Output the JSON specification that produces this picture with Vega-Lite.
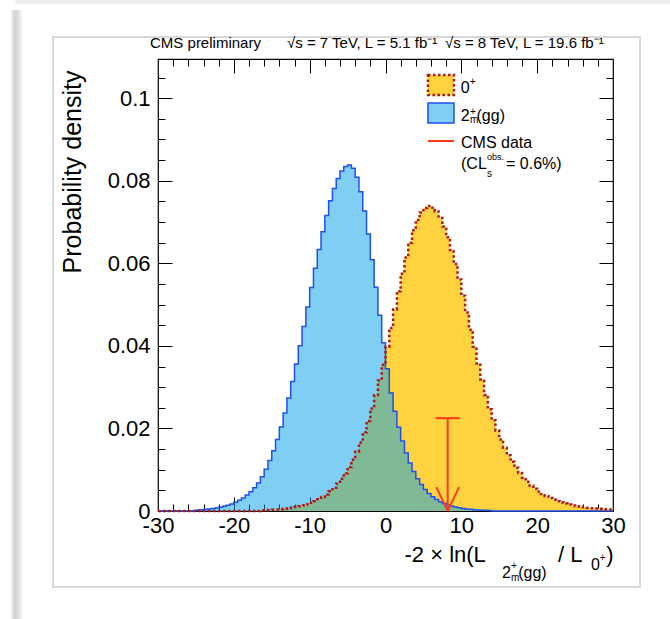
{
  "$schema": "https://vega.github.io/schema/vega-lite/v6.json",
  "width": 455,
  "height": 452,
  "autosize": {"type": "none"},
  "padding": {"left": 158, "top": 59, "right": 57, "bottom": 108},
  "background": "white",
  "datasets": {
    "single": [{}],
    "spin0": [
      {"lo": -30, "p": 0}, {"lo": -29.5, "p": 0}, {"lo": -29, "p": 0}, {"lo": -28.5, "p": 0}, {"lo": -28, "p": 0}, {"lo": -27.5, "p": 0}, {"lo": -27, "p": 0}, {"lo": -26.5, "p": 0}, {"lo": -26, "p": 0}, {"lo": -25.5, "p": 0}, {"lo": -25, "p": 0}, {"lo": -24.5, "p": 0}, {"lo": -24, "p": 0}, {"lo": -23.5, "p": 0}, {"lo": -23, "p": 0}, {"lo": -22.5, "p": 0}, {"lo": -22, "p": 0}, {"lo": -21.5, "p": 0}, {"lo": -21, "p": 0}, {"lo": -20.5, "p": 0}, {"lo": -20, "p": 0}, {"lo": -19.5, "p": 0}, {"lo": -19, "p": 0}, {"lo": -18.5, "p": 0}, {"lo": -18, "p": 0}, {"lo": -17.5, "p": 0}, {"lo": -17, "p": 0},
      {"lo": -16.5, "p": 0.00017}, {"lo": -16, "p": 0.0002}, {"lo": -15.5, "p": 0.00025}, {"lo": -15, "p": 0.00031}, {"lo": -14.5, "p": 0.00037}, {"lo": -14, "p": 0.00045}, {"lo": -13.5, "p": 0.00055}, {"lo": -13, "p": 0.00066}, {"lo": -12.5, "p": 0.0008}, {"lo": -12, "p": 0.00096}, {"lo": -11.5, "p": 0.00116}, {"lo": -11, "p": 0.00139}, {"lo": -10.5, "p": 0.00166}, {"lo": -10, "p": 0.00199}, {"lo": -9.5, "p": 0.00238}, {"lo": -9, "p": 0.00284}, {"lo": -8.5, "p": 0.00338}, {"lo": -8, "p": 0.00402}, {"lo": -7.5, "p": 0.00476}, {"lo": -7, "p": 0.00563}, {"lo": -6.5, "p": 0.00663}, {"lo": -6, "p": 0.00779}, {"lo": -5.5, "p": 0.00913}, {"lo": -5, "p": 0.01065}, {"lo": -4.5, "p": 0.01239}, {"lo": -4, "p": 0.01437}, {"lo": -3.5, "p": 0.01658}, {"lo": -3, "p": 0.01905}, {"lo": -2.5, "p": 0.02179}, {"lo": -2, "p": 0.02481}, {"lo": -1.5, "p": 0.02809}, {"lo": -1, "p": 0.03163}, {"lo": -0.5, "p": 0.0354}, {"lo": 0, "p": 0.03981}, {"lo": 0.5, "p": 0.04431}, {"lo": 1, "p": 0.04882}, {"lo": 1.5, "p": 0.05324}, {"lo": 2, "p": 0.05748}, {"lo": 2.5, "p": 0.06142}, {"lo": 3, "p": 0.06496}, {"lo": 3.5, "p": 0.06802}, {"lo": 4, "p": 0.07049}, {"lo": 4.5, "p": 0.07231}, {"lo": 5, "p": 0.07342}, {"lo": 5.5, "p": 0.0739}, {"lo": 6, "p": 0.07348}, {"lo": 6.5, "p": 0.07255}, {"lo": 7, "p": 0.07101}, {"lo": 7.5, "p": 0.06891}, {"lo": 8, "p": 0.0663}, {"lo": 8.5, "p": 0.06325}, {"lo": 9, "p": 0.05981}, {"lo": 9.5, "p": 0.05609}, {"lo": 10, "p": 0.05215}, {"lo": 10.5, "p": 0.04807}, {"lo": 11, "p": 0.04393}, {"lo": 11.5, "p": 0.03981}, {"lo": 12, "p": 0.03576}, {"lo": 12.5, "p": 0.03186}, {"lo": 13, "p": 0.02813}, {"lo": 13.5, "p": 0.02463}, {"lo": 14, "p": 0.02197}, {"lo": 14.5, "p": 0.01953}, {"lo": 15, "p": 0.01732}, {"lo": 15.5, "p": 0.01533}, {"lo": 16, "p": 0.01353}, {"lo": 16.5, "p": 0.01191}, {"lo": 17, "p": 0.01048}, {"lo": 17.5, "p": 0.0092}, {"lo": 18, "p": 0.00806}, {"lo": 18.5, "p": 0.00706}, {"lo": 19, "p": 0.00617}, {"lo": 19.5, "p": 0.00539}, {"lo": 20, "p": 0.00471}, {"lo": 20.5, "p": 0.00411}, {"lo": 21, "p": 0.00358}, {"lo": 21.5, "p": 0.00312}, {"lo": 22, "p": 0.00271}, {"lo": 22.5, "p": 0.00236}, {"lo": 23, "p": 0.00206}, {"lo": 23.5, "p": 0.00179}, {"lo": 24, "p": 0.00156}, {"lo": 24.5, "p": 0.00136}, {"lo": 25, "p": 0.00118}, {"lo": 25.5, "p": 0.00103}, {"lo": 26, "p": 0.00089}, {"lo": 26.5, "p": 0.00078}, {"lo": 27, "p": 0.00068}, {"lo": 27.5, "p": 0.00059}, {"lo": 28, "p": 0.00052}, {"lo": 28.5, "p": 0.00045}, {"lo": 29, "p": 0.00039}, {"lo": 29.5, "p": 0.00034}, {"lo": 30, "p": 0.00034}
    ],
    "spin2": [
      {"lo": -30, "p": 0}, {"lo": -29.5, "p": 0}, {"lo": -29, "p": 0}, {"lo": -28.5, "p": 0}, {"lo": -28, "p": 0}, {"lo": -27.5, "p": 0}, {"lo": -27, "p": 0}, {"lo": -26.5, "p": 0}, {"lo": -26, "p": 0}, {"lo": -25.5, "p": 0},
      {"lo": -25, "p": 0.00023}, {"lo": -24.5, "p": 0.00029}, {"lo": -24, "p": 0.00037}, {"lo": -23.5, "p": 0.00047}, {"lo": -23, "p": 0.00058}, {"lo": -22.5, "p": 0.00073}, {"lo": -22, "p": 0.00091}, {"lo": -21.5, "p": 0.00113}, {"lo": -21, "p": 0.00139}, {"lo": -20.5, "p": 0.00172}, {"lo": -20, "p": 0.00212}, {"lo": -19.5, "p": 0.00259}, {"lo": -19, "p": 0.00317}, {"lo": -18.5, "p": 0.00385}, {"lo": -18, "p": 0.00467}, {"lo": -17.5, "p": 0.00564}, {"lo": -17, "p": 0.00677}, {"lo": -16.5, "p": 0.00832}, {"lo": -16, "p": 0.01012}, {"lo": -15.5, "p": 0.01221}, {"lo": -15, "p": 0.01461}, {"lo": -14.5, "p": 0.01732}, {"lo": -14, "p": 0.02036}, {"lo": -13.5, "p": 0.02372}, {"lo": -13, "p": 0.0274}, {"lo": -12.5, "p": 0.03137}, {"lo": -12, "p": 0.0356}, {"lo": -11.5, "p": 0.04006}, {"lo": -11, "p": 0.04468}, {"lo": -10.5, "p": 0.0494}, {"lo": -10, "p": 0.05415}, {"lo": -9.5, "p": 0.05883}, {"lo": -9, "p": 0.06337}, {"lo": -8.5, "p": 0.06766}, {"lo": -8, "p": 0.07161}, {"lo": -7.5, "p": 0.07513}, {"lo": -7, "p": 0.07814}, {"lo": -6.5, "p": 0.08057}, {"lo": -6, "p": 0.08235}, {"lo": -5.5, "p": 0.08343}, {"lo": -5, "p": 0.0838}, {"lo": -4.5, "p": 0.08306}, {"lo": -4, "p": 0.08087}, {"lo": -3.5, "p": 0.07736}, {"lo": -3, "p": 0.07269}, {"lo": -2.5, "p": 0.0671}, {"lo": -2, "p": 0.06085}, {"lo": -1.5, "p": 0.05421}, {"lo": -1, "p": 0.04744}, {"lo": -0.5, "p": 0.04079}, {"lo": 0, "p": 0.03445}, {"lo": 0.5, "p": 0.02858}, {"lo": 1, "p": 0.02417}, {"lo": 1.5, "p": 0.0203}, {"lo": 2, "p": 0.01694}, {"lo": 2.5, "p": 0.01407}, {"lo": 3, "p": 0.01162}, {"lo": 3.5, "p": 0.00957}, {"lo": 4, "p": 0.00784}, {"lo": 4.5, "p": 0.00641}, {"lo": 5, "p": 0.00523}, {"lo": 5.5, "p": 0.00425}, {"lo": 6, "p": 0.00345}, {"lo": 6.5, "p": 0.0028}, {"lo": 7, "p": 0.00226}, {"lo": 7.5, "p": 0.00183}, {"lo": 8, "p": 0.00148}, {"lo": 8.5, "p": 0.00119}, {"lo": 9, "p": 0.00096}, {"lo": 9.5, "p": 0.00078}, {"lo": 10, "p": 0.00063}, {"lo": 10.5, "p": 0.00051}, {"lo": 11, "p": 0.00041}, {"lo": 11.5, "p": 0.00033}, {"lo": 12, "p": 0.00026}, {"lo": 12.5, "p": 0.00021}, {"lo": 13, "p": 0.00017}, {"lo": 13.5, "p": 0.00013},
      {"lo": 14, "p": 0}, {"lo": 14.5, "p": 0}, {"lo": 15, "p": 0}, {"lo": 15.5, "p": 0}, {"lo": 16, "p": 0}, {"lo": 16.5, "p": 0}, {"lo": 17, "p": 0}, {"lo": 17.5, "p": 0}, {"lo": 18, "p": 0}, {"lo": 18.5, "p": 0}, {"lo": 19, "p": 0}, {"lo": 19.5, "p": 0}, {"lo": 20, "p": 0}, {"lo": 20.5, "p": 0}, {"lo": 21, "p": 0}, {"lo": 21.5, "p": 0}, {"lo": 22, "p": 0}, {"lo": 22.5, "p": 0}, {"lo": 23, "p": 0}, {"lo": 23.5, "p": 0}, {"lo": 24, "p": 0}, {"lo": 24.5, "p": 0}, {"lo": 25, "p": 0}, {"lo": 25.5, "p": 0}, {"lo": 26, "p": 0}, {"lo": 26.5, "p": 0}, {"lo": 27, "p": 0}, {"lo": 27.5, "p": 0}, {"lo": 28, "p": 0}, {"lo": 28.5, "p": 0}, {"lo": 29, "p": 0}, {"lo": 29.5, "p": 0}, {"lo": 30, "p": 0}
    ],
    "observed": [
      {"x": 8.2, "y": 0, "x2": 8.2, "y2": 0.0225},
      {"x": 6.62, "y": 0.0225, "x2": 9.8, "y2": 0.0225},
      {"x": 6.7, "y": 0.0058, "x2": 8.2, "y2": 0},
      {"x": 9.7, "y": 0.0058, "x2": 8.2, "y2": 0}
    ]
  },
  "resolve": {"axis": {"x": "independent", "y": "independent"}},
  "layer": [
    {
      "data": {"name": "single"},
      "mark": {"type": "rect", "fill": {"gradient": "linear", "x1": 0, "y1": 0, "x2": 1, "y2": 0, "stops": [{"offset": 0, "color": "#ffffff"}, {"offset": 0.35, "color": "#d2d2d2"}, {"offset": 0.6, "color": "#dadada"}, {"offset": 1, "color": "#f6f6f6"}]}},
      "encoding": {
        "x": {"datum": -49.5, "type": "quantitative", "axis": null},
        "x2": {"datum": -47.9},
        "y": {"datum": 0.1214, "type": "quantitative", "axis": null},
        "y2": {"datum": -0.0262}
      }
    },
    {
      "data": {"name": "single"},
      "mark": {"type": "rect", "fill": "#ececec"},
      "encoding": {
        "x": {"datum": -48.8, "type": "quantitative", "axis": null},
        "x2": {"datum": 37.6},
        "y": {"datum": 0.1238, "type": "quantitative", "axis": null},
        "y2": {"datum": 0.1229}
      }
    },
    {
      "data": {"name": "single"},
      "mark": {"type": "rect", "fillOpacity": 0, "stroke": "#d8d8d8", "strokeWidth": 2},
      "encoding": {
        "x": {"datum": -43.85, "type": "quantitative", "axis": null},
        "x2": {"datum": 33.56},
        "y": {"datum": 0.11483, "type": "quantitative", "axis": null},
        "y2": {"datum": -0.01841}
      }
    },
    {
      "data": {"name": "spin0"},
      "mark": {"type": "area", "interpolate": "step-after", "color": "#FFD23F"},
      "encoding": {
        "x": {"field": "lo", "type": "quantitative", "scale": {"domain": [-30, 30], "nice": false, "zero": false},
          "axis": {"orient": "bottom", "values": [-30, -20, -10, 0, 10, 20, 30], "ticks": false, "labelPadding": 4, "labelExpr": "'' + datum.value", "title": null}},
        "y": {"field": "p", "type": "quantitative", "scale": {"domain": [0, 0.1095], "nice": false},
          "axis": {"orient": "left", "values": [0, 0.02, 0.04, 0.06, 0.08, 0.1], "ticks": false, "labelPadding": 8, "labelExpr": "'' + datum.value",
            "title": "Probability density", "titleFontSize": 25, "titleFontWeight": "normal", "titleX": -78, "titleY": 11, "titleAngle": -90, "titleAlign": "right", "titleBaseline": "alphabetic"}}
      }
    },
    {
      "data": {"name": "spin2"},
      "mark": {"type": "area", "interpolate": "step-after", "color": "#009FEB", "opacity": 0.5},
      "encoding": {
        "x": {"field": "lo", "type": "quantitative",
          "axis": {"orient": "bottom", "values": [-20, -10, 0, 10, 20], "tickSize": -14, "labels": false, "title": null}},
        "y": {"field": "p", "type": "quantitative",
          "axis": {"orient": "left", "values": [0.02, 0.04, 0.06, 0.08, 0.1], "tickSize": -14, "labels": false, "title": null}}
      }
    },
    {
      "data": {"name": "spin2"},
      "mark": {"type": "line", "interpolate": "step-after", "color": "#1F4FF0", "strokeWidth": 1.5},
      "encoding": {
        "x": {"field": "lo", "type": "quantitative",
          "axis": {"orient": "bottom", "values": [-28, -26, -24, -22, -18, -16, -14, -12, -8, -6, -4, -2, 2, 4, 6, 8, 12, 14, 16, 18, 22, 24, 26, 28], "tickSize": -7, "labels": false, "title": null}},
        "y": {"field": "p", "type": "quantitative",
          "axis": {"orient": "left", "values": [0.005, 0.01, 0.015, 0.025, 0.03, 0.035, 0.045, 0.05, 0.055, 0.065, 0.07, 0.075, 0.085, 0.09, 0.095, 0.105], "tickSize": -7, "labels": false, "title": null}}
      }
    },
    {
      "data": {"name": "spin0"},
      "mark": {"type": "line", "interpolate": "step-after", "color": "#B0180C", "strokeWidth": 2.5, "strokeDash": [2.5, 2.5]},
      "encoding": {
        "x": {"field": "lo", "type": "quantitative",
          "axis": {"orient": "top", "values": [-20, -10, 0, 10, 20], "tickSize": -14, "labels": false, "title": null}},
        "y": {"field": "p", "type": "quantitative",
          "axis": {"orient": "right", "values": [0.02, 0.04, 0.06, 0.08, 0.1], "tickSize": -14, "labels": false, "title": null}}
      }
    },
    {
      "data": {"name": "observed"},
      "mark": {"type": "rule", "color": "#FF3A1A", "strokeWidth": 2},
      "encoding": {
        "x": {"field": "x", "type": "quantitative",
          "axis": {"orient": "top", "values": [-28, -26, -24, -22, -18, -16, -14, -12, -8, -6, -4, -2, 2, 4, 6, 8, 12, 14, 16, 18, 22, 24, 26, 28], "tickSize": -7, "labels": false, "title": null}},
        "x2": {"field": "x2"},
        "y": {"field": "y", "type": "quantitative",
          "axis": {"orient": "right", "values": [0.005, 0.01, 0.015, 0.025, 0.03, 0.035, 0.045, 0.05, 0.055, 0.065, 0.07, 0.075, 0.085, 0.09, 0.095, 0.105], "tickSize": -7, "labels": false, "title": null}},
        "y2": {"field": "y2"}
      }
    },
    {
      "data": {"name": "single"},
      "mark": {"type": "rect", "fill": "#FFD23F", "stroke": "#B0180C", "strokeWidth": 2.5, "strokeDash": [2.5, 2.5]},
      "encoding": {
        "x": {"datum": 5.6, "type": "quantitative", "axis": null},
        "x2": {"datum": 9.03},
        "y": {"datum": 0.10562, "type": "quantitative", "axis": null},
        "y2": {"datum": 0.10078}
      }
    },
    {
      "data": {"name": "single"},
      "mark": {"type": "rect", "fill": "#009FEB", "fillOpacity": 0.5, "stroke": "#1F4FF0", "strokeWidth": 1.5},
      "encoding": {
        "x": {"datum": 5.6, "type": "quantitative", "axis": null},
        "x2": {"datum": 9.03},
        "y": {"datum": 0.09884, "type": "quantitative", "axis": null},
        "y2": {"datum": 0.094}
      }
    },
    {
      "data": {"name": "single"},
      "mark": {"type": "rule", "color": "#FF3A1A", "strokeWidth": 2},
      "encoding": {
        "x": {"datum": 5.6, "type": "quantitative", "axis": null},
        "x2": {"datum": 9.03},
        "y": {"datum": 0.08963, "type": "quantitative", "axis": null}
      }
    },
    {"data": {"name": "single"}, "mark": {"type": "text", "text": "CMS preliminary", "fontSize": 15, "align": "left", "baseline": "alphabetic"},
      "encoding": {"x": {"datum": -31.05, "type": "quantitative", "axis": null}, "y": {"datum": 0.11216, "type": "quantitative", "axis": null}}},
    {"data": {"name": "single"}, "mark": {"type": "text", "text": "√s = 7 TeV, L = 5.1 fb⁻¹", "fontSize": 15, "align": "left", "baseline": "alphabetic"},
      "encoding": {"x": {"datum": -12.99, "type": "quantitative", "axis": null}, "y": {"datum": 0.11216, "type": "quantitative", "axis": null}}},
    {"data": {"name": "single"}, "mark": {"type": "text", "text": "√s = 8 TeV, L = 19.6 fb⁻¹", "fontSize": 15, "align": "left", "baseline": "alphabetic"},
      "encoding": {"x": {"datum": 7.85, "type": "quantitative", "axis": null}, "y": {"datum": 0.11216, "type": "quantitative", "axis": null}}},
    {"data": {"name": "single"}, "mark": {"type": "text", "text": "0", "fontSize": 16, "align": "left", "baseline": "alphabetic"},
      "encoding": {"x": {"datum": 9.92, "type": "quantitative", "axis": null}, "y": {"datum": 0.10119, "type": "quantitative", "axis": null}}},
    {"data": {"name": "single"}, "mark": {"type": "text", "text": "+", "fontSize": 10, "align": "left", "baseline": "alphabetic"},
      "encoding": {"x": {"datum": 11.1, "type": "quantitative", "axis": null}, "y": {"datum": 0.10327, "type": "quantitative", "axis": null}}},
    {"data": {"name": "single"}, "mark": {"type": "text", "text": "2", "fontSize": 16, "align": "left", "baseline": "alphabetic"},
      "encoding": {"x": {"datum": 9.92, "type": "quantitative", "axis": null}, "y": {"datum": 0.09436, "type": "quantitative", "axis": null}}},
    {"data": {"name": "single"}, "mark": {"type": "text", "text": "+", "fontSize": 10, "align": "left", "baseline": "alphabetic"},
      "encoding": {"x": {"datum": 11.15, "type": "quantitative", "axis": null}, "y": {"datum": 0.09598, "type": "quantitative", "axis": null}}},
    {"data": {"name": "single"}, "mark": {"type": "text", "text": "m", "fontSize": 10, "align": "left", "baseline": "alphabetic"},
      "encoding": {"x": {"datum": 11.15, "type": "quantitative", "axis": null}, "y": {"datum": 0.094, "type": "quantitative", "axis": null}}},
    {"data": {"name": "single"}, "mark": {"type": "text", "text": "(gg)", "fontSize": 16, "align": "left", "baseline": "alphabetic"},
      "encoding": {"x": {"datum": 12.0, "type": "quantitative", "axis": null}, "y": {"datum": 0.09436, "type": "quantitative", "axis": null}}},
    {"data": {"name": "single"}, "mark": {"type": "text", "text": "CMS data", "fontSize": 16, "align": "left", "baseline": "alphabetic"},
      "encoding": {"x": {"datum": 9.96, "type": "quantitative", "axis": null}, "y": {"datum": 0.08787, "type": "quantitative", "axis": null}}},
    {"data": {"name": "single"}, "mark": {"type": "text", "text": "(CL", "fontSize": 16, "align": "left", "baseline": "alphabetic"},
      "encoding": {"x": {"datum": 9.96, "type": "quantitative", "axis": null}, "y": {"datum": 0.08278, "type": "quantitative", "axis": null}}},
    {"data": {"name": "single"}, "mark": {"type": "text", "text": "s", "fontSize": 10, "align": "left", "baseline": "alphabetic"},
      "encoding": {"x": {"datum": 13.39, "type": "quantitative", "axis": null}, "y": {"datum": 0.08098, "type": "quantitative", "axis": null}}},
    {"data": {"name": "single"}, "mark": {"type": "text", "text": "obs.", "fontSize": 9, "align": "left", "baseline": "alphabetic"},
      "encoding": {"x": {"datum": 13.39, "type": "quantitative", "axis": null}, "y": {"datum": 0.08503, "type": "quantitative", "axis": null}}},
    {"data": {"name": "single"}, "mark": {"type": "text", "text": "= 0.6%)", "fontSize": 16, "align": "left", "baseline": "alphabetic"},
      "encoding": {"x": {"datum": 15.89, "type": "quantitative", "axis": null}, "y": {"datum": 0.08278, "type": "quantitative", "axis": null}}},
    {"data": {"name": "single"}, "mark": {"type": "text", "text": "-2 × ln(L", "fontSize": 22, "align": "left", "baseline": "alphabetic"},
      "encoding": {"x": {"datum": 2.51, "type": "quantitative", "axis": null}, "y": {"datum": -0.012355, "type": "quantitative", "axis": null}}},
    {"data": {"name": "single"}, "mark": {"type": "text", "text": "2", "fontSize": 16, "align": "left", "baseline": "alphabetic"},
      "encoding": {"x": {"datum": 15.36, "type": "quantitative", "axis": null}, "y": {"datum": -0.01623, "type": "quantitative", "axis": null}}},
    {"data": {"name": "single"}, "mark": {"type": "text", "text": "+", "fontSize": 10, "align": "left", "baseline": "alphabetic"},
      "encoding": {"x": {"datum": 16.55, "type": "quantitative", "axis": null}, "y": {"datum": -0.01405, "type": "quantitative", "axis": null}}},
    {"data": {"name": "single"}, "mark": {"type": "text", "text": "m", "fontSize": 10, "align": "left", "baseline": "alphabetic"},
      "encoding": {"x": {"datum": 16.55, "type": "quantitative", "axis": null}, "y": {"datum": -0.01696, "type": "quantitative", "axis": null}}},
    {"data": {"name": "single"}, "mark": {"type": "text", "text": "(gg)", "fontSize": 16, "align": "left", "baseline": "alphabetic"},
      "encoding": {"x": {"datum": 17.5, "type": "quantitative", "axis": null}, "y": {"datum": -0.01623, "type": "quantitative", "axis": null}}},
    {"data": {"name": "single"}, "mark": {"type": "text", "text": "/ L", "fontSize": 22, "align": "left", "baseline": "alphabetic"},
      "encoding": {"x": {"datum": 22.75, "type": "quantitative", "axis": null}, "y": {"datum": -0.012355, "type": "quantitative", "axis": null}}},
    {"data": {"name": "single"}, "mark": {"type": "text", "text": "0", "fontSize": 16, "align": "left", "baseline": "alphabetic"},
      "encoding": {"x": {"datum": 27.1, "type": "quantitative", "axis": null}, "y": {"datum": -0.01429, "type": "quantitative", "axis": null}}},
    {"data": {"name": "single"}, "mark": {"type": "text", "text": "+", "fontSize": 10, "align": "left", "baseline": "alphabetic"},
      "encoding": {"x": {"datum": 28.25, "type": "quantitative", "axis": null}, "y": {"datum": -0.01211, "type": "quantitative", "axis": null}}},
    {"data": {"name": "single"}, "mark": {"type": "text", "text": ")", "fontSize": 22, "align": "left", "baseline": "alphabetic"},
      "encoding": {"x": {"datum": 29.1, "type": "quantitative", "axis": null}, "y": {"datum": -0.012355, "type": "quantitative", "axis": null}}}
  ],
  "config": {
    "view": {"stroke": "#000000", "strokeWidth": 1.2},
    "axis": {"zindex": 1, "domain": false, "grid": false, "tickColor": "#000000", "tickWidth": 1,
      "labelFont": "Liberation Sans", "labelFontSize": 22, "labelColor": "#000000",
      "titleFont": "Liberation Sans", "titleColor": "#000000",
      "labelFlush": false, "labelOverlap": false, "labelBound": false},
    "text": {"font": "Liberation Sans", "color": "#000000"}
  }
}
